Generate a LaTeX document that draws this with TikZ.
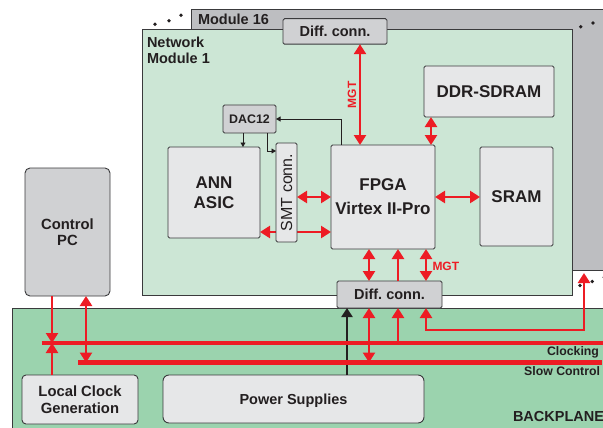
\documentclass[tikz,border=0pt]{standalone}
\usepackage{fontspec}
\setmainfont{Liberation Sans}
\usetikzlibrary{arrows.meta,calc}
\definecolor{redA}{HTML}{ED1C24}
\definecolor{txt}{HTML}{231F20}
\definecolor{edge}{HTML}{3A3A3C}
\definecolor{modgray}{HTML}{BDBEC1}
\definecolor{modgreen}{HTML}{CCE6D5}
\definecolor{bpgreen}{HTML}{9BD3AE}
\definecolor{boxgray}{HTML}{D0D1D3}
\definecolor{boxlight}{HTML}{E6E7E8}
\newcommand{\fsz}[2]{\fontsize{#1}{#2}\selectfont}
\frenchspacing
\begin{document}
\begin{tikzpicture}[x=1pt,y=-1pt,
  every node/.style={inner sep=0pt, outer sep=0pt, text=txt},
  region/.style={draw=edge, line width=0.9pt, anchor=north west},
  box/.style={draw=edge, line width=0.9pt, rounded corners=1.5pt, anchor=north west},
  rline/.style={draw=redA, line width=2.8pt, >={Triangle[length=10pt,width=12pt]}},
  bus/.style={draw=redA, line width=4.5pt},
  blk/.style={draw=txt, line width=0.9pt, ->, >={Triangle[length=4.5pt,width=5pt]}},
  blkthick/.style={draw=txt, line width=2.2pt, ->, >={Triangle[length=9pt,width=11pt]}},
  lbl/.style={font=\fsz{14.5}{16}\bfseries},
  big/.style={font=\fsz{17}{20}\bfseries},
  dotm/.style={fill=txt}
]
\clip (0,0) rectangle (603,428);

% regions
\node[region, fill=modgray, minimum width=420, minimum height=261] (mod16) at (191,9) {};
\node[lbl, anchor=base west] (mod16lbl) at (198,25) {Module 16};
\node[region, fill=modgreen, minimum width=430.5, minimum height=266] (mod1) at (142,29) {};
\node[lbl, anchor=north west, align=left] (mod1lbl) at (147,36.5) {Network\\Module 1};
\node[region, fill=bpgreen, minimum width=600, minimum height=130] (bp) at (12,308) {};

% dots
\fill[dotm] (155,24.3) circle (1.9) (169,20.7) circle (1.9) (181,15.3) circle (1.9);
\fill[dotm] (580.7,26.7) circle (1.9) (593,23) circle (1.9);
\fill[dotm] (580,285.5) circle (1.9) (592.3,281.5) circle (1.9) (604.2,277.3) circle (1.9);

% module boxes
\node[box, fill=boxgray, lbl, minimum width=104, minimum height=25.5] (diffT) at (283,18.7) {Diff. conn.};
\node[box, fill=boxlight, big, minimum width=130, minimum height=51] (ddr) at (424,66) {DDR-SDRAM};
\node[box, fill=boxgray, font=\fsz{12.4}{14}\bfseries, minimum width=53, minimum height=28] (dac) at (223,105) {DAC12};
\node[box, fill=boxlight, big, align=center, minimum width=92, minimum height=91] (ann) at (168,147) {ANN\\ASIC};
\node[box, fill=boxlight, font=\fsz{17}{24}\bfseries, align=center, minimum width=104, minimum height=104] (fpga) at (331,145) {FPGA\\Virtex II-Pro};
\node[box, fill=boxlight, big, minimum width=73, minimum height=99] (sram) at (480,147) {SRAM};

% ANN <-> FPGA (passes behind SMT connector)
\draw[rline, <->] ($(ann.south east)+(0,-6)$) -- ($(fpga.south west)+(0,-17)$);
\node[box, fill=boxlight, minimum width=21, minimum height=99] (smt) at (276,143) {};
\node[rotate=90, font=\fsz{16}{18}] (smtlbl) at (smt.center) {SMT conn.};

% red links inside module
\draw[rline, <->] (smt.east |- fpga.west) -- (fpga.west);
\draw[rline, <->] (fpga.east) -- (fpga.east -| sram.west);
\draw[rline, <->] ($(ddr.south west)+(7,0)$) -- ($(fpga.north east)+(-4,0)$);
\draw[rline, <->] ($(fpga.north west)+(29,0)$) coordinate (mgtA) -- (mgtA |- diffT.south);
\node[rotate=90, text=redA, font=\fsz{12}{14}\bfseries] (mgt1) at (352,95) {MGT};

% black control links
\draw[blk] ($(fpga.north west)+(10,0)$) |- (dac.east);
\draw[blk] ($(dac.south west)+(20,0)$) coordinate (d1) -- (d1 |- ann.north);
\draw[blk] ($(dac.south west)+(44,0)$) |- ($(smt.north west)+(0,8)$);

% lower diff connector
\node[box, fill=boxgray, lbl, minimum width=105, minimum height=27] (diffB) at (337,281) {Diff. conn.};
\draw[rline, <->] ($(diffB.north west)+(32,0)$) coordinate (b1) -- (b1 |- fpga.south);
\draw[rline, ->] ($(diffB.north west)+(61,0)$) coordinate (b2) -- (b2 |- fpga.south);
\draw[rline, <->] ($(diffB.north west)+(89,0)$) coordinate (b3) -- (b3 |- fpga.south);
\node[anchor=west, text=redA, font=\fsz{12}{14}\bfseries] (mgt2) at (432.5,266) {MGT};

% backplane boxes
\node[box, rounded corners=5pt, fill=boxgray, align=center, font=\fsz{14.8}{16.5}\bfseries, minimum width=85, minimum height=128] (pc) at (25,168) {Control\\PC};
\node[box, rounded corners=4pt, fill=boxlight, align=center, font=\fsz{14.8}{17.5}\bfseries, minimum width=116, minimum height=49] (lcg) at (22,375) {Local Clock\\Generation};
\node[box, rounded corners=6pt, fill=boxlight, lbl, text depth=0pt, minimum width=261, minimum height=48] (pwr) at (163,375) {Power Supplies};

% bus coordinates
\coordinate (clkL) at (41.5,343);
\coordinate (clkR) at (605,343);
\coordinate (scL) at (78,362.5);
\coordinate (scR) at (602,362.5);
\coordinate (rp) at (584,330);

% backplane links
\draw[blkthick] ($(pwr.north west)+(184,0)$) coordinate (p1) -- (p1 |- diffB.south);
\draw[rline, <->] (b1 |- diffB.south) -- (b1 |- scL);
\draw[rline, ->] (b2 |- clkL) -- (b2 |- diffB.south);
\draw[rline, <->, shorten >=3pt] (b3 |- diffB.south) |- (rp) -- (rp |- mod16.south);
\draw[rline, ->] ($(pc.south west)+(27,0)$) coordinate (c1) -- (c1 |- clkL);
\draw[rline, ->] (c1 |- lcg.north) -- (c1 |- clkL);
\draw[rline, <->] ($(pc.south west)+(61,0)$) coordinate (c2) -- (c2 |- scL);

\draw[bus] (clkL) -- (clkR);
\draw[bus] (scL) -- (scR);

\node[anchor=base east, font=\fsz{12.3}{14}\bfseries] (clklbl) at (599,355) {Clocking};
\node[anchor=base east, font=\fsz{12.3}{14}\bfseries] (sclbl) at (600,375) {Slow Control};
\node[lbl, anchor=base west] (bplbl) at (513,421.7) {BACKPLANE};
\end{tikzpicture}
\end{document}
